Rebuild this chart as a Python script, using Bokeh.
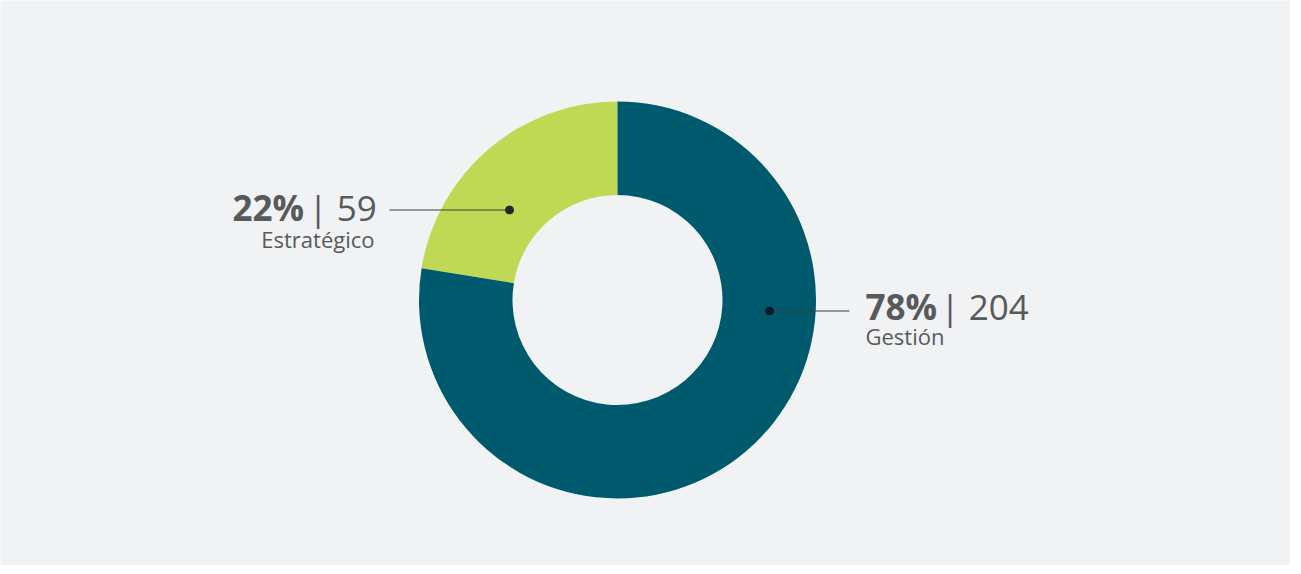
import math
from bokeh.plotting import figure
from bokeh.models import ColumnDataSource
from bokeh.core.properties import value
from bokeh.embed import file_html
from bokeh.resources import INLINE

# ---- data ----
categories = ["Estratégico", "Gestión"]
counts = [59, 204]
percent_labels = ["22%", "78%"]
colors = ["#c1d855", "#005a6e"]

W, H = 1290, 565
BG = "#f0f2f4"
TXT = "#58595b"

p = figure(width=W, height=H, x_range=(0, W), y_range=(0, H),
           output_backend="svg", toolbar_location=None,
           min_border=0, background_fill_color=BG, border_fill_color=BG,
           outline_line_color=None)
p.axis.visible = False
p.grid.visible = False

cx, cy = 617, 265.5
r_out, r_in = 198.5, 105

total = sum(counts)
starts, ends = [], []
a = math.pi / 2
for c in counts:
    starts.append(a)
    a += c / total * 2 * math.pi
    ends.append(a)

src = ColumnDataSource(dict(cat=categories, start=starts, end=ends, color=colors))
p.annular_wedge(x=cx, y=cy, inner_radius=r_in, outer_radius=r_out,
                start_angle="start", end_angle="end", direction="anticlock",
                fill_color="color", line_color=None, source=src)

# leader lines + dots
p.line([389, 509], [355.5, 355.5], line_color="#3c3c3c", line_width=1.2)
p.scatter([509], [355.5], size=8, color="#1d2b2f")
p.line([769, 849], [254.5, 254.5], line_color="#3c3c3c", line_width=1.2)
p.scatter([769], [254.5], size=8, color="#0b1d2a")

FONT = "Open Sans"

def lab(x, y, text, size, bold=False, align="left"):
    p.text(x=[x], y=[y], text=[text], text_font=value(FONT), text_font_size=size,
           text_font_style="bold" if bold else "normal",
           text_color=TXT, text_align=align, text_baseline="alphabetic")

# left label
lab(232, 358, percent_labels[0], "35px", bold=True)
lab(308, 358, "| " + str(counts[0]), "35px")
lab(374, 327, categories[0], "22px", align="right")

# right label
lab(865, 259, percent_labels[1], "35px", bold=True)
lab(940, 259, "| " + str(counts[1]), "35px")
lab(865, 230, categories[1], "22px")

open("out.html", "w").write(file_html(p, INLINE))
